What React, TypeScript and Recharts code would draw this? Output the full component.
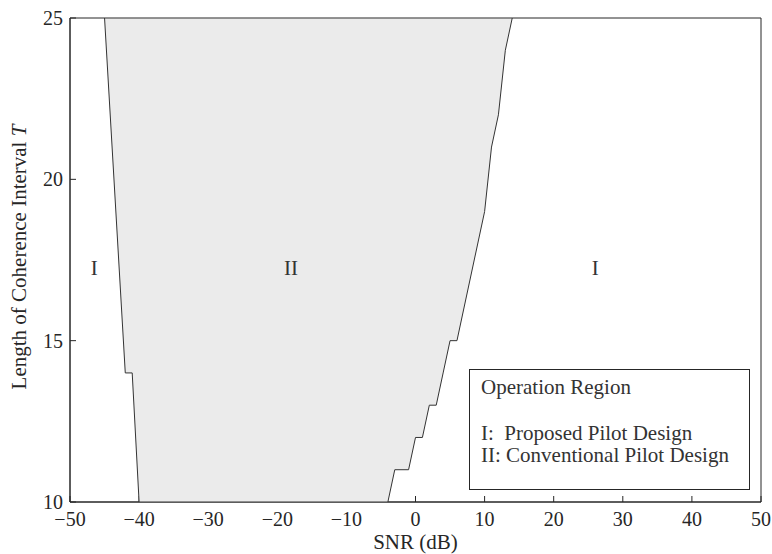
import React from 'react';
import { ScatterChart, Scatter, XAxis, YAxis, ReferenceArea, Legend } from 'recharts';

// boundary of region II (SNR in dB, T)
const leftSnr = [-40, -41, -42, -45];
const leftT = [10, 14, 14, 25];
const rightSnr = [-4, -3, -1, 0, 1, 2, 3, 4, 5, 6, 10, 11, 12, 13, 14];
const rightT = [10, 11, 11, 12, 12, 13, 13, 14, 15, 15, 19, 21, 22, 24, 25];

// region labels
const regionText = ['I', 'II', 'I'];
const regionSnr = [-46.5, -18, 26];
const regionT = [17.25, 17.25, 17.25];

const xTicks = [-50, -40, -30, -20, -10, 0, 10, 20, 30, 40, 50];
const yTicks = [10, 15, 20, 25];

const legendTitle = 'Operation Region';
const legendLines = ['I:  Proposed Pilot Design', 'II: Conventional Pilot Design'];

const FONT = '"Liberation Serif", "Times New Roman", serif';
const INK = '#262626';

// closed polygon: left edge bottom -> top, then right edge top -> bottom
const regionData = [
    ...leftSnr.map((s, i) => ({ snr: s, t: leftT[i] })),
    ...rightSnr.map((s, i) => ({ snr: s, t: rightT[i] })).reverse()
];
const labelData = regionText.map((text, i) => ({ snr: regionSnr[i], t: regionT[i], text }));

const fmt = (v: number) => (v < 0 ? `\u2212${-v}` : `${v}`);

const renderRegion = (props: any) => {
    const pts = props.points || [];
    const d = pts.map((p: any, i: number) => `${i ? 'L' : 'M'}${p.x},${p.y}`).join(' ') + ' Z';
    return <path d={d} fill="#ebebeb" stroke="#333" strokeWidth={1} />;
};

const renderRegionLabel = (p: any) => (
    <text x={p.cx} y={p.cy} textAnchor="middle" dominantBaseline="central"
        fontFamily={FONT} fontSize={21} fill="#333">
        {p.payload.text}
    </text>
);

const XTitle = (props: any) => {
    const vb = props.viewBox;
    return (
        <text x={vb.x + vb.width / 2} y={vb.y + 47} textAnchor="middle"
            fontFamily={FONT} fontSize={21} fill={INK}>
            SNR (dB)
        </text>
    );
};

const YTitle = (props: any) => {
    const vb = props.viewBox;
    const cx = 26;
    const cy = vb.y + vb.height / 2 - 3;
    return (
        <text x={cx} y={cy} textAnchor="middle" transform={`rotate(-90, ${cx}, ${cy})`}
            fontFamily={FONT} fontSize={21} fill={INK}>
            Length of Coherence Interval <tspan fontStyle="italic">T</tspan>
        </text>
    );
};

const LegendBox = () => (
    <svg width={281} height={121} style={{ display: 'block' }}>
        <rect x={0.5} y={0.5} width={280} height={120} fill="#fff" stroke={INK} />
        <text x={12} y={24.5} fontFamily={FONT} fontSize={21} fill="#333">{legendTitle}</text>
        {legendLines.map((line, i) => (
            <text key={line} x={12} y={71 + i * 22} fontFamily={FONT} fontSize={21} fill="#333"
                style={{ whiteSpace: 'pre' }}>
                {line}
            </text>
        ))}
    </svg>
);

export default function App() {
    return (
        <div style={{ position: 'absolute', left: 0, top: 0, width: 772, height: 554, background: '#fff' }}>
            <ScatterChart width={772} height={554} margin={{ top: 18, right: 11, bottom: 22, left: 20 }}>
                <XAxis
                    type="number"
                    dataKey="snr"
                    domain={[-50, 50]}
                    ticks={xTicks}
                    interval={0}
                    allowDataOverflow
                    tickFormatter={fmt}
                    height={30}
                    tickSize={-6}
                    tickMargin={16}
                    stroke={INK}
                    tick={{ fill: INK, fontSize: 20, fontFamily: FONT }}
                    label={{ content: XTitle }}
                />
                <YAxis
                    type="number"
                    dataKey="t"
                    domain={[10, 25]}
                    ticks={yTicks}
                    interval={0}
                    allowDataOverflow
                    width={50}
                    tickSize={-6}
                    tickMargin={13}
                    stroke={INK}
                    tick={{ fill: INK, fontSize: 20, fontFamily: FONT }}
                    label={{ content: YTitle }}
                />
                <ReferenceArea x1={-50} x2={50} y1={10} y2={25} fill="none" stroke={INK} strokeWidth={1} />
                <Scatter
                    data={regionData}
                    isAnimationActive={false}
                    line={renderRegion}
                    lineType="joint"
                    shape={() => <g />}
                />
                <Scatter
                    data={labelData}
                    isAnimationActive={false}
                    shape={renderRegionLabel}
                />
                <Legend
                    layout="horizontal"
                    verticalAlign="middle"
                    align="center"
                    content={LegendBox}
                    wrapperStyle={{ position: 'absolute', left: 469, top: 369, width: 281, height: 121 }}
                />
            </ScatterChart>
        </div>
    );
}
